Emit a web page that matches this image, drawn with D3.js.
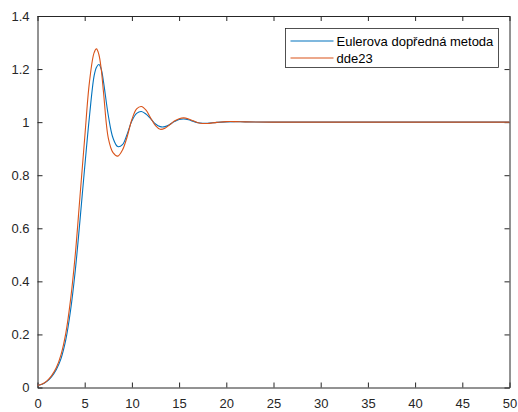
<!DOCTYPE html>
<html>
<head>
<meta charset="utf-8">
<script src="https://cdn.jsdelivr.net/npm/d3@7"></script>
<style>
  body { margin: 0; background: #fff; }
  svg { display: block; font-family: "Liberation Sans", Arial, sans-serif; }
</style>
</head>
<body>
<svg id="chart"></svg>
<script>
// time samples (s)
const time = [0, 0.5, 1, 1.5, 2, 2.5, 3, 3.5, 4, 4.5, 5, 5.5, 6, 6.25, 6.5, 6.75, 7, 7.5, 8, 8.5, 9, 9.5,
    10, 10.5, 11, 11.5, 12, 12.5, 13, 13.5, 14, 14.5, 15, 15.5, 16, 16.5, 17, 17.5, 18, 19, 20, 21, 22, 25, 30, 40, 50];

// Eulerova dopredna metoda
const euler = [0.008, 0.012, 0.023, 0.041, 0.068, 0.11, 0.18, 0.29, 0.44, 0.63, 0.83, 1.02, 1.175, 1.207, 1.217, 1.2, 1.15, 1.025, 0.94, 0.908, 0.915, 0.955,
    1.005, 1.033, 1.04, 1.03, 1.012, 0.993, 0.983, 0.983, 0.991, 1.002, 1.01, 1.012, 1.009, 1.003, 0.998, 0.996, 0.996, 0.999, 1.001, 1.002, 1.001, 1.0, 1.0, 1.0, 1.0];

// dde23
const dde = [0.008, 0.013, 0.025, 0.045, 0.075, 0.125, 0.205, 0.33, 0.5, 0.72, 0.94, 1.15, 1.262, 1.276, 1.255, 1.2, 1.11, 0.94, 0.885, 0.872, 0.895, 0.945,
    1.01, 1.05, 1.059, 1.045, 1.015, 0.987, 0.973, 0.977, 0.99, 1.004, 1.013, 1.016, 1.012, 1.005, 0.998, 0.995, 0.995, 0.999, 1.002, 1.002, 1.001, 1.0, 1.0, 1.0, 1.0];

const xTicks = [0, 5, 10, 15, 20, 25, 30, 35, 40, 45, 50];
const yTicks = [0, 0.2, 0.4, 0.6, 0.8, 1, 1.2, 1.4];
const seriesNames = ["Eulerova dopředná metoda", "dde23"];
const colors = ["#0072BD", "#D95319"];

const width = 518;
const height = 412;
const margin = { top: 16, right: 8.5, bottom: 24.5, left: 37.5 };
const innerWidth = width - margin.left - margin.right;
const innerHeight = height - margin.top - margin.bottom;

const svg = d3.select("#chart")
    .attr("width", width)
    .attr("height", height);

svg.append("rect")
    .attr("width", width)
    .attr("height", height)
    .attr("fill", "#fff");

const g = svg.append("g")
    .attr("transform", `translate(${margin.left},${margin.top})`);

const x = d3.scaleLinear().domain([0, 50]).range([0, innerWidth]);
const y = d3.scaleLinear().domain([0, 1.4]).range([innerHeight, 0]);

function styleAxis(sel) {
    sel.selectAll("path").attr("stroke", "#262626");
    sel.selectAll("line").attr("stroke", "#262626");
    sel.selectAll("text")
        .attr("fill", "#262626")
        .style("font-size", "13px");
}

// X axis (bottom)
g.append("g")
    .attr("transform", `translate(0,${innerHeight})`)
    .call(d3.axisBottom(x).tickValues(xTicks).tickSizeInner(-5).tickSizeOuter(0).tickPadding(11).tickFormat(d3.format("d")))
    .call(styleAxis);

// top axis, no labels
g.append("g")
    .call(d3.axisTop(x).tickValues(xTicks).tickSizeInner(-5).tickSizeOuter(0).tickFormat(""))
    .call(styleAxis);

// Y axis (left)
g.append("g")
    .call(d3.axisLeft(y).tickValues(yTicks).tickSizeInner(-5).tickSizeOuter(0).tickPadding(8).tickFormat(d => d3.format("~g")(d)))
    .call(styleAxis);

// right axis, no labels
g.append("g")
    .attr("transform", `translate(${innerWidth},0)`)
    .call(d3.axisRight(y).tickValues(yTicks).tickSizeInner(-5).tickSizeOuter(0).tickFormat(""))
    .call(styleAxis);

// Lines
const line = d3.line()
    .x(d => x(d[0]))
    .y(d => y(d[1]))
    .curve(d3.curveCatmullRom.alpha(0.5));

[euler, dde].forEach((vals, i) => {
    g.append("path")
        .datum(time.map((t, k) => [t, vals[k]]))
        .attr("fill", "none")
        .attr("stroke", colors[i])
        .attr("stroke-width", 1.1)
        .attr("d", line);
});

// Legend
const legend = svg.append("g").attr("transform", "translate(285.5,28.5)");
legend.append("rect")
    .attr("width", 213)
    .attr("height", 39)
    .attr("fill", "#fff")
    .attr("stroke", "#262626")
    .attr("stroke-width", 0.8);

seriesNames.forEach((name, i) => {
    const row = legend.append("g").attr("transform", `translate(0,${12.5 + i * 17})`);
    row.append("line")
        .attr("x1", 5).attr("x2", 48)
        .attr("stroke", colors[i])
        .attr("stroke-width", 1.1);
    row.append("text")
        .attr("x", 51)
        .attr("dy", "0.35em")
        .attr("fill", "#000")
        .style("font-size", "13px")
        .text(name);
});
</script>
</body>
</html>
